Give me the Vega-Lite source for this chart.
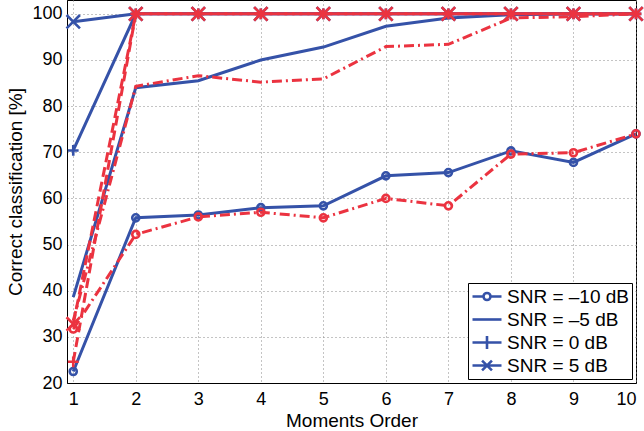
{
  "$schema": "https://vega.github.io/schema/vega-lite/v6.json",
  "width": 569,
  "height": 383,
  "autosize": {"type": "none"},
  "padding": {"left": 67, "top": 0, "right": 8, "bottom": 48},
  "config": {
    "font": "Liberation Sans",
    "view": {"stroke": "#000", "strokeWidth": 1},
    "axis": {
      "labelFont": "Liberation Sans", "titleFont": "Liberation Sans",
      "labelFontSize": 18, "titleFontSize": 19, "titleFontWeight": "normal",
      "labelColor": "#000", "titleColor": "#000",
      "domainColor": "#000", "ticks": false,
      "gridColor": "#888", "gridDash": [1, 3], "gridWidth": 1
    }
  },
  "data": {
    "values": [
      {"method": "A", "snr": "SNR = –10 dB", "order": 1, "value": 22.5},
      {"method": "A", "snr": "SNR = –10 dB", "order": 2, "value": 55.8},
      {"method": "A", "snr": "SNR = –10 dB", "order": 3, "value": 56.4},
      {"method": "A", "snr": "SNR = –10 dB", "order": 4, "value": 58.0},
      {"method": "A", "snr": "SNR = –10 dB", "order": 5, "value": 58.4},
      {"method": "A", "snr": "SNR = –10 dB", "order": 6, "value": 64.9},
      {"method": "A", "snr": "SNR = –10 dB", "order": 7, "value": 65.6},
      {"method": "A", "snr": "SNR = –10 dB", "order": 8, "value": 70.3},
      {"method": "A", "snr": "SNR = –10 dB", "order": 9, "value": 67.8},
      {"method": "A", "snr": "SNR = –10 dB", "order": 10, "value": 74.0},
      {"method": "A", "snr": "SNR = –5 dB", "order": 1, "value": 38.6},
      {"method": "A", "snr": "SNR = –5 dB", "order": 2, "value": 84.0},
      {"method": "A", "snr": "SNR = –5 dB", "order": 3, "value": 85.5},
      {"method": "A", "snr": "SNR = –5 dB", "order": 4, "value": 90.0},
      {"method": "A", "snr": "SNR = –5 dB", "order": 5, "value": 92.8},
      {"method": "A", "snr": "SNR = –5 dB", "order": 6, "value": 97.3},
      {"method": "A", "snr": "SNR = –5 dB", "order": 7, "value": 99.1},
      {"method": "A", "snr": "SNR = –5 dB", "order": 8, "value": 99.8},
      {"method": "A", "snr": "SNR = –5 dB", "order": 9, "value": 100},
      {"method": "A", "snr": "SNR = –5 dB", "order": 10, "value": 100},
      {"method": "A", "snr": "SNR = 0 dB", "order": 1, "value": 70.4},
      {"method": "A", "snr": "SNR = 0 dB", "order": 2, "value": 100},
      {"method": "A", "snr": "SNR = 0 dB", "order": 3, "value": 100},
      {"method": "A", "snr": "SNR = 0 dB", "order": 4, "value": 100},
      {"method": "A", "snr": "SNR = 0 dB", "order": 5, "value": 100},
      {"method": "A", "snr": "SNR = 0 dB", "order": 6, "value": 100},
      {"method": "A", "snr": "SNR = 0 dB", "order": 7, "value": 100},
      {"method": "A", "snr": "SNR = 0 dB", "order": 8, "value": 100},
      {"method": "A", "snr": "SNR = 0 dB", "order": 9, "value": 100},
      {"method": "A", "snr": "SNR = 0 dB", "order": 10, "value": 100},
      {"method": "A", "snr": "SNR = 5 dB", "order": 1, "value": 98.3},
      {"method": "A", "snr": "SNR = 5 dB", "order": 2, "value": 100},
      {"method": "A", "snr": "SNR = 5 dB", "order": 3, "value": 100},
      {"method": "A", "snr": "SNR = 5 dB", "order": 4, "value": 100},
      {"method": "A", "snr": "SNR = 5 dB", "order": 5, "value": 100},
      {"method": "A", "snr": "SNR = 5 dB", "order": 6, "value": 100},
      {"method": "A", "snr": "SNR = 5 dB", "order": 7, "value": 100},
      {"method": "A", "snr": "SNR = 5 dB", "order": 8, "value": 100},
      {"method": "A", "snr": "SNR = 5 dB", "order": 9, "value": 100},
      {"method": "A", "snr": "SNR = 5 dB", "order": 10, "value": 100},
      {"method": "B", "snr": "SNR = –10 dB", "order": 1, "value": 31.7},
      {"method": "B", "snr": "SNR = –10 dB", "order": 2, "value": 52.2},
      {"method": "B", "snr": "SNR = –10 dB", "order": 3, "value": 56.0},
      {"method": "B", "snr": "SNR = –10 dB", "order": 4, "value": 57.0},
      {"method": "B", "snr": "SNR = –10 dB", "order": 5, "value": 55.8},
      {"method": "B", "snr": "SNR = –10 dB", "order": 6, "value": 60.0},
      {"method": "B", "snr": "SNR = –10 dB", "order": 7, "value": 58.4},
      {"method": "B", "snr": "SNR = –10 dB", "order": 8, "value": 69.6},
      {"method": "B", "snr": "SNR = –10 dB", "order": 9, "value": 69.9},
      {"method": "B", "snr": "SNR = –10 dB", "order": 10, "value": 74.0},
      {"method": "B", "snr": "SNR = –5 dB", "order": 1, "value": 33.5},
      {"method": "B", "snr": "SNR = –5 dB", "order": 2, "value": 84.3},
      {"method": "B", "snr": "SNR = –5 dB", "order": 3, "value": 86.6},
      {"method": "B", "snr": "SNR = –5 dB", "order": 4, "value": 85.2},
      {"method": "B", "snr": "SNR = –5 dB", "order": 5, "value": 85.9},
      {"method": "B", "snr": "SNR = –5 dB", "order": 6, "value": 92.9},
      {"method": "B", "snr": "SNR = –5 dB", "order": 7, "value": 93.4},
      {"method": "B", "snr": "SNR = –5 dB", "order": 8, "value": 99.1},
      {"method": "B", "snr": "SNR = –5 dB", "order": 9, "value": 99.4},
      {"method": "B", "snr": "SNR = –5 dB", "order": 10, "value": 100},
      {"method": "B", "snr": "SNR = 0 dB", "order": 1, "value": 24.6},
      {"method": "B", "snr": "SNR = 0 dB", "order": 2, "value": 100},
      {"method": "B", "snr": "SNR = 0 dB", "order": 3, "value": 100},
      {"method": "B", "snr": "SNR = 0 dB", "order": 4, "value": 100},
      {"method": "B", "snr": "SNR = 0 dB", "order": 5, "value": 100},
      {"method": "B", "snr": "SNR = 0 dB", "order": 6, "value": 100},
      {"method": "B", "snr": "SNR = 0 dB", "order": 7, "value": 100},
      {"method": "B", "snr": "SNR = 0 dB", "order": 8, "value": 100},
      {"method": "B", "snr": "SNR = 0 dB", "order": 9, "value": 100},
      {"method": "B", "snr": "SNR = 0 dB", "order": 10, "value": 100},
      {"method": "B", "snr": "SNR = 5 dB", "order": 1, "value": 32.8},
      {"method": "B", "snr": "SNR = 5 dB", "order": 2, "value": 100},
      {"method": "B", "snr": "SNR = 5 dB", "order": 3, "value": 100},
      {"method": "B", "snr": "SNR = 5 dB", "order": 4, "value": 100},
      {"method": "B", "snr": "SNR = 5 dB", "order": 5, "value": 100},
      {"method": "B", "snr": "SNR = 5 dB", "order": 6, "value": 100},
      {"method": "B", "snr": "SNR = 5 dB", "order": 7, "value": 100},
      {"method": "B", "snr": "SNR = 5 dB", "order": 8, "value": 100},
      {"method": "B", "snr": "SNR = 5 dB", "order": 9, "value": 100},
      {"method": "B", "snr": "SNR = 5 dB", "order": 10, "value": 100}
    ]
  },
  "encoding": {
    "x": {
      "field": "order", "type": "quantitative",
      "scale": {"domain": [0.9, 10], "nice": false, "zero": false},
      "axis": {"values": [1, 2, 3, 4, 5, 6, 7, 8, 9, 10], "title": "Moments Order", "labelPadding": 7, "titlePadding": 3, "grid": true}
    },
    "y": {
      "field": "value", "type": "quantitative",
      "scale": {"domain": [20, 103], "nice": false, "zero": false},
      "axis": {"values": [20, 30, 40, 50, 60, 70, 80, 90, 100], "title": "Correct classification [%]", "labelPadding": 5, "titlePadding": 6, "grid": true}
    }
  },
  "layer": [
    {
      "transform": [{"filter": "datum.method === 'A'"}],
      "mark": {"type": "line", "color": "#3552A8", "strokeWidth": 3},
      "encoding": {"detail": {"field": "snr"}}
    },
    {
      "transform": [{"filter": "datum.method === 'A' && datum.snr !== 'SNR = –5 dB'"}],
      "mark": {"type": "point", "filled": false, "color": "#3552A8", "strokeWidth": 2.6, "opacity": 1},
      "encoding": {
        "shape": {"field": "snr", "legend": null, "scale": {"domain": ["SNR = –10 dB", "SNR = 0 dB", "SNR = 5 dB"], "range": ["circle", "M-1,0H1M0,-1V1", "M-1,-1L1,1M-1,1L1,-1"]}},
        "size": {"field": "snr", "legend": null, "scale": {"domain": ["SNR = –10 dB", "SNR = 0 dB", "SNR = 5 dB"], "range": [50, 180, 90]}}
      }
    },
    {
      "transform": [{"filter": "datum.method === 'B' && (datum.snr === 'SNR = –10 dB' || datum.snr === 'SNR = –5 dB')"}],
      "mark": {"type": "line", "color": "#EB3340", "strokeWidth": 3, "strokeDash": [10, 4, 2, 4]},
      "encoding": {"detail": {"field": "snr"}}
    },
    {
      "transform": [{"filter": "datum.method === 'B' && (datum.snr === 'SNR = 0 dB' || datum.snr === 'SNR = 5 dB')"}],
      "mark": {"type": "line", "color": "#EB3340", "strokeWidth": 3, "strokeDash": [10, 5]},
      "encoding": {"detail": {"field": "snr"}}
    },
    {
      "transform": [{"filter": "datum.method === 'B' && datum.snr !== 'SNR = –5 dB'"}],
      "mark": {"type": "point", "filled": false, "color": "#EB3340", "strokeWidth": 2.6, "opacity": 1},
      "encoding": {
        "shape": {"field": "snr", "legend": null, "scale": {"domain": ["SNR = –10 dB", "SNR = 0 dB", "SNR = 5 dB"], "range": ["circle", "M-1,0H1M0,-1V1", "M-1,-1L1,1M-1,1L1,-1"]}},
        "size": {"field": "snr", "legend": null, "scale": {"domain": ["SNR = –10 dB", "SNR = 0 dB", "SNR = 5 dB"], "range": [50, 180, 90]}}
      }
    },
    {
      "transform": [{"filter": "datum.method === 'A' && datum.order === 1"}],
      "mark": {"type": "point", "filled": false, "color": "#3552A8", "strokeWidth": 2.6, "opacity": 0},
      "encoding": {
        "shape": {
          "field": "snr",
          "scale": {
            "domain": ["SNR = –10 dB", "SNR = –5 dB", "SNR = 0 dB", "SNR = 5 dB"],
            "range": [
              "M-1,0H-0.24M0.24,0H1M0.24,0A0.24,0.24,0,1,1,-0.24,0A0.24,0.24,0,1,1,0.24,0",
              "M-1,0H1",
              "M-1,0H1M0,-0.45V0.45",
              "M-1,0H1M-0.34,-0.34L0.34,0.34M-0.34,0.34L0.34,-0.34"
            ]
          },
          "legend": {
            "title": null, "orient": "bottom-right", "offset": 4,
            "padding": 3, "strokeColor": "#000", "fillColor": "#fff", "cornerRadius": 0,
            "symbolSize": 841, "symbolOpacity": 1, "symbolStrokeColor": "#3552A8",
            "symbolStrokeWidth": 2.6, "symbolFillColor": "transparent",
            "labelFont": "Liberation Sans", "labelFontSize": 19, "labelColor": "#000",
            "labelOffset": 4, "rowPadding": 2, "clipHeight": 21
          }
        }
      }
    }
  ],
  "resolve": {"scale": {"shape": "independent", "size": "independent"}, "legend": {"shape": "independent"}}
}
